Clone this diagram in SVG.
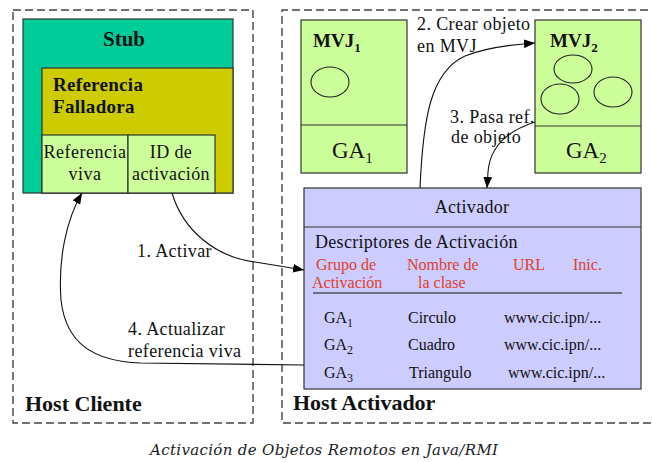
<svg xmlns="http://www.w3.org/2000/svg" width="652" height="462" viewBox="0 0 652 462">
<defs>
<style>
.host{fill:none;stroke:#444;stroke-width:1.4;stroke-dasharray:8,4}
.box{stroke:#333;stroke-width:1.2}
.t{font-family:"Liberation Serif","Times New Roman",serif;fill:#111}
.b{font-weight:bold}
.lbl{font-size:18px;letter-spacing:0.4px}
.red{font-size:16px;fill:#E0402A}
.row{font-size:16px}
.conn{fill:none;stroke:#111;stroke-width:1.1}
</style>
<marker id="ah" viewBox="0 0 10 8" refX="10" refY="4" markerWidth="11" markerHeight="9" markerUnits="userSpaceOnUse" orient="auto">
<path d="M0,0 L10,4 L0,8 z" fill="#000"/>
</marker>
</defs>
<rect width="652" height="462" fill="#fff"/>

<g id="host-cliente">
<rect class="host" x="13" y="10" width="240" height="413"/>
<text class="t b" x="25" y="411" font-size="22">Host Cliente</text>
</g>

<g id="host-activador">
<path class="host" d="M660,10 H282 V423 H660"/>
<text class="t b" x="293" y="410" font-size="22">Host Activador</text>
</g>

<g id="stub">
<rect class="box" x="23" y="19" width="210" height="174" fill="#00CC99"/>
<text class="t b" x="124" y="46" font-size="21" text-anchor="middle">Stub</text>
</g>

<g id="referencia-falladora">
<rect class="box" x="42" y="68" width="191" height="125" fill="#CCCC00"/>
<text class="t b" x="53" y="91" font-size="19" letter-spacing="0.3">Referencia</text>
<text class="t b" x="53" y="113" font-size="19" letter-spacing="0.3">Falladora</text>
</g>

<g id="referencia-viva">
<rect class="box" x="42" y="135" width="86" height="58" fill="#CCFF99"/>
<text class="t" x="85" y="158" font-size="18" text-anchor="middle" letter-spacing="0.5">Referencia</text>
<text class="t" x="85" y="180" font-size="18" text-anchor="middle" letter-spacing="0.5">viva</text>
</g>

<g id="id-activacion">
<rect class="box" x="128" y="135" width="87" height="58" fill="#CCFF99"/>
<text class="t" x="171" y="158" font-size="18" text-anchor="middle" letter-spacing="0.4">ID de</text>
<text class="t" x="171" y="180" font-size="18" text-anchor="middle" letter-spacing="0.4">activación</text>
</g>

<g id="mvj1">
<rect class="box" x="301" y="20" width="106" height="153" fill="#CCFF99"/>
<line class="box" x1="301" y1="125" x2="407" y2="125"/>
<text class="t b" x="313" y="47" font-size="19">MVJ<tspan font-size="13" dy="5">1</tspan></text>
<ellipse cx="330" cy="82" rx="19" ry="15" fill="none" stroke="#222" stroke-width="1.1"/>
<text class="t" x="332" y="158" font-size="23">GA<tspan font-size="15" dy="5">1</tspan></text>
</g>

<g id="mvj2">
<rect class="box" x="535" y="20" width="106" height="153" fill="#CCFF99"/>
<line class="box" x1="535" y1="126" x2="641" y2="126"/>
<text class="t b" x="550" y="47" font-size="19">MVJ<tspan font-size="13" dy="5">2</tspan></text>
<ellipse cx="573" cy="69" rx="19" ry="14" fill="none" stroke="#222" stroke-width="1.1"/>
<ellipse cx="560" cy="99" rx="19" ry="15" fill="none" stroke="#222" stroke-width="1.1"/>
<ellipse cx="613" cy="92" rx="19" ry="15" fill="none" stroke="#222" stroke-width="1.1"/>
<text class="t" x="566" y="158" font-size="23">GA<tspan font-size="15" dy="5">2</tspan></text>
</g>

<g id="activador">
<rect class="box" x="304" y="188" width="337" height="201" fill="#CCCCFF"/>
<line class="box" x1="304" y1="227" x2="641" y2="227"/>
<text class="t" x="472" y="213" font-size="18" text-anchor="middle" letter-spacing="0.3">Activador</text>
<text class="t" x="315" y="248" font-size="18" letter-spacing="0.3">Descriptores de Activación</text>
<text class="t red" x="316" y="270">Grupo de</text>
<text class="t red" x="312" y="288">Activación</text>
<text class="t red" x="407" y="270">Nombre de</text>
<text class="t red" x="418" y="288">la clase</text>
<text class="t red" x="513" y="270">URL</text>
<text class="t red" x="573" y="270">Inic.</text>
<line x1="313" y1="293" x2="622" y2="293" stroke="#111" stroke-width="1.2"/>
<text class="t row" x="324" y="323">GA<tspan font-size="12" dy="4">1</tspan></text>
<text class="t row" x="408" y="323">Circulo</text>
<text class="t row" x="504" y="323">www.cic.ipn/...</text>
<text class="t row" x="324" y="350">GA<tspan font-size="12" dy="4">2</tspan></text>
<text class="t row" x="408" y="350">Cuadro</text>
<text class="t row" x="504" y="350">www.cic.ipn/...</text>
<text class="t row" x="324" y="378">GA<tspan font-size="12" dy="4">3</tspan></text>
<text class="t row" x="409" y="378">Triangulo</text>
<text class="t row" x="508" y="378">www.cic.ipn/...</text>
</g>

<g id="connectors">
<path class="conn" d="M172,193 C183,230 215,257 255,262 L304,270" marker-end="url(#ah)"/>
<path class="conn" d="M420,188 C423,120 430,72 465,56 Q490,46 535,43" marker-end="url(#ah)"/>
<path class="conn" d="M535,122 C510,130 490,145 488,172 L487,188" marker-end="url(#ah)"/>
<path class="conn" d="M304,365 L140,363 C95,361 66,345 61,300 C58,260 66,220 82,193" marker-end="url(#ah)"/>
<text class="t lbl" x="137" y="257">1. Activar</text>
<text class="t lbl" x="417" y="30">2. Crear objeto</text>
<text class="t lbl" x="417" y="52">en MVJ</text>
<text class="t lbl" x="450" y="123">3. Pasa ref.</text>
<text class="t lbl" x="451" y="143">de objeto</text>
<text class="t lbl" x="128" y="335">4. Actualizar</text>
<text class="t lbl" x="128" y="357">referencia viva</text>
</g>

<text x="150" y="455" font-family="'DejaVu Serif','Liberation Serif',serif" font-style="italic" font-size="15" fill="#222" textLength="348" lengthAdjust="spacing">Activación de Objetos Remotos en Java/RMI</text>
</svg>
